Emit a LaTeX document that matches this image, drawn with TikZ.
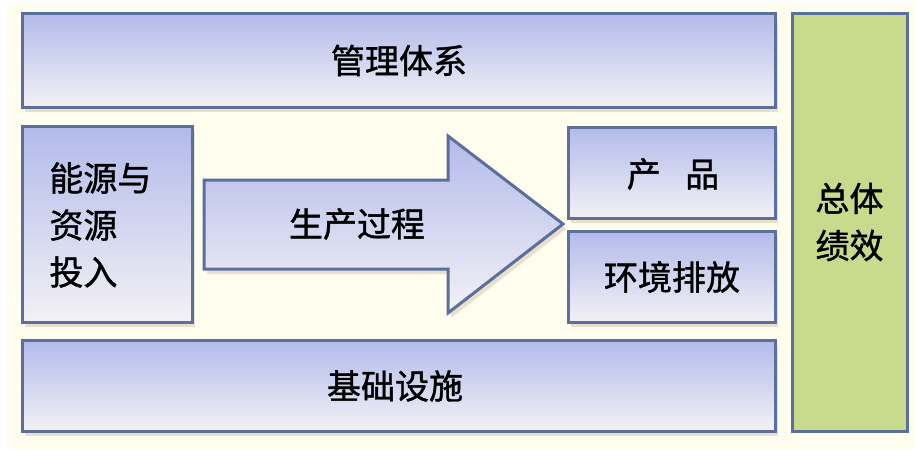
\documentclass[tikz,border=0pt]{standalone}
\usepackage{fontspec}
\newfontfamily\cjk[FakeBold=1.2]{Noto Sans CJK SC}
\usetikzlibrary{shadows}
\definecolor{boxtop}{HTML}{B2BAEA}
\definecolor{boxbot}{HTML}{F3F1F5}
\definecolor{boxline}{HTML}{5A6F9C}
\definecolor{perfgreen}{HTML}{C8DA8B}
\definecolor{cream}{HTML}{FFFDEE}
\tikzset{
	panel/.style={draw=boxline, line width=1.5pt, top color=boxtop, bottom color=boxbot,
		drop shadow={fill=brown!70!black, opacity=0.18, shadow xshift=1.5pt, shadow yshift=-2.5pt}},
	greenpanel/.style={draw=boxline, line width=1.5pt, fill=perfgreen},
	boxtext/.style={font=\cjk\fontsize{17}{23.5}\selectfont, text=black, inner sep=0pt}
}

\begin{document}
\begin{tikzpicture}[x=0.5pt, y=-0.5pt]
		%%%%% START %%%%%
		
		\useasboundingbox (0, 0) rectangle (919, 449);
		\fill[white] (0, 0) rectangle (919, 449);
		\fill[cream] (7, 3) rectangle (915, 449);
		
		\draw[panel] (22, 14) rectangle (775, 107);
		\node[boxtext] (mgmt) at (399, 60.5) {管理体系};
		
		\draw[panel] (22, 126) rectangle (192, 322);
		\node[boxtext, anchor=west, align=left] (input) at (49, 225) {能源与\\资源\\投入};
		
		\draw[panel] (204, 180) -- (448, 180) -- (448, 136) -- (563, 224) -- (448, 313) -- (448, 269) -- (204, 269) -- cycle;
		\node[boxtext] (proc) at (357, 224) {生产过程};
		
		\draw[panel] (568, 127) rectangle (775, 218);
		\node[boxtext] (prod) at (673, 174) {产\hspace{0.72em}品};
		
		\draw[panel] (568, 231) rectangle (775, 322);
		\node[boxtext] (emis) at (672, 277) {环境排放};
		
		\draw[panel] (22, 340) rectangle (775, 431);
		\node[boxtext] (infra) at (395, 386) {基础设施};
		
		\draw[greenpanel] (792, 14) rectangle (907, 431);
		\node[boxtext, align=center] (perf) at (849.5, 222) {总体\\绩效};
		
		%%%%% END %%%%%
	\end{tikzpicture}
\end{document}
